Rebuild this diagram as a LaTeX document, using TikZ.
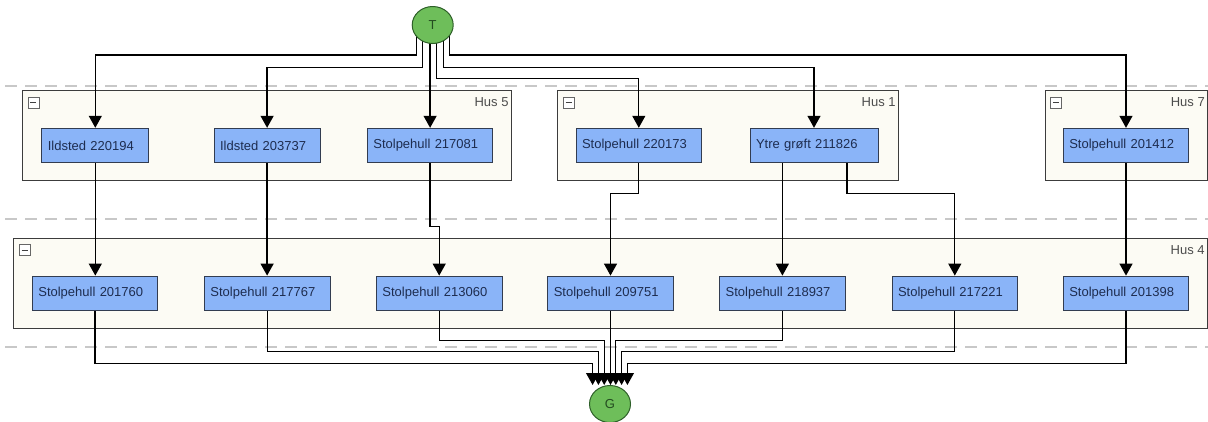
\documentclass[tikz,border=0pt]{standalone}
\usepackage{fontspec}
\setmainfont{Liberation Sans}
\definecolor{postblue}{RGB}{138,180,248}
\definecolor{postline}{RGB}{50,60,80}
\definecolor{posttext}{RGB}{30,45,80}
\definecolor{husfill}{RGB}{252,251,244}
\definecolor{husline}{RGB}{60,60,60}
\definecolor{nodegreen}{RGB}{110,190,90}
\definecolor{greenline}{RGB}{45,95,40}
\definecolor{lanegray}{RGB}{200,200,200}
\usetikzlibrary{arrows.meta,shapes.geometric,backgrounds}
\tikzset{
  post/.style={draw=postline, fill=postblue, line width=0.9pt, minimum height=34.5pt,
    inner xsep=6pt, inner ysep=0pt, text width=#1, align=left, text=posttext,
    font=\fontsize{13}{15}\selectfont},
  post/.default=113.5pt,
  endpt/.style={ellipse, draw=greenline, fill=nodegreen, line width=1pt, minimum width=41pt,
    minimum height=37pt, inner sep=0pt, text=greenline!80!black, font=\fontsize{13}{15}\selectfont},
  hus/.style={draw=husline, fill=husfill, line width=1pt, anchor=north west, inner sep=0pt},
  huslabel/.style={anchor=north east, inner sep=0pt, text=black!70, font=\fontsize{13}{15}\selectfont},
  fold/.style={draw=black!60, fill=white, anchor=north west, minimum size=11pt, inner sep=0pt,
    path picture={\draw[black!75, line width=0.8pt] ([xshift=2.5pt]path picture bounding box.west)
      -- ([xshift=-2.5pt]path picture bounding box.east);}},
  lane/.style={lanegray, line width=1.2pt, dash pattern=on 12pt off 8pt},
  conn/.style={line width=1.25pt, -{Triangle[width=13pt,length=12pt]}},
}

\begin{document}
\begin{tikzpicture}[x=1pt,y=-1pt]
  \useasboundingbox (0,0) rectangle (1208,421);
  %% 1. Lanes and houses
  \begin{scope}[on background layer]
    \draw[lane] (5,86) -- (1208,86);
    \draw[lane] (5,219) -- (1208,219);
    \draw[lane] (5,347) -- (1208,347);
    \node[hus, minimum width=488.5pt, minimum height=89.7pt] (hus5) at (22.2,90) {};
    \node[hus, minimum width=340.5pt, minimum height=89.7pt] (hus1) at (557.3,90) {};
    \node[hus, minimum width=162.3pt, minimum height=89.7pt] (hus7) at (1044.7,90) {};
    \node[hus, minimum width=1193.4pt, minimum height=89.4pt] (hus4) at (13.4,238.3) {};
  \end{scope}
  %% 2. House labels
  \node[huslabel] (l5) at ([xshift=-3pt,yshift=-7.5pt]hus5.north east) {Hus 5};
  \node[huslabel] (l1) at ([xshift=-3pt,yshift=-7.5pt]hus1.north east) {Hus 1};
  \node[huslabel] (l7) at ([xshift=-3pt,yshift=-7.5pt]hus7.north east) {Hus 7};
  \node[huslabel] (l4) at ([xshift=-3pt,yshift=-7.5pt]hus4.north east) {Hus 4};
  \node[fold] (f5) at ([xshift=5.5pt,yshift=-7pt]hus5.north west) {};
  \node[fold] (f1) at ([xshift=5.5pt,yshift=-7pt]hus1.north west) {};
  \node[fold] (f7) at ([xshift=5.5pt,yshift=-7pt]hus7.north west) {};
  \node[fold] (f4) at ([xshift=5.5pt,yshift=-6pt]hus4.north west) {};
  %% 3. Start and end
  \node[endpt] (T) at (432.7,25) {T};
  \node[endpt] (G) at (610,404) {G};
  %% 4. Finds
  \node[post=95pt] (i220194) at (95.3,145.5) {Ildsted 220194};
  \node[post=94pt] (i203737) at (267.1,145.5) {Ildsted 203737};
  \node[post] (s217081) at (430.1,145.5) {Stolpehull 217081};
  \node[post] (s220173) at (638.8,145.5) {Stolpehull 220173};
  \node[post=116pt] (y211826) at (814,145.5) {Ytre grøft 211826};
  \node[post] (s201412) at (1126,145.5) {Stolpehull 201412};

  \node[post] (s201760) at (95.1,293.3) {Stolpehull 201760};
  \node[post] (s217767) at (267.2,293.3) {Stolpehull 217767};
  \node[post] (s213060) at (439.2,293.3) {Stolpehull 213060};
  \node[post] (s209751) at (610.5,293.3) {Stolpehull 209751};
  \node[post] (s218937) at (782.4,293.3) {Stolpehull 218937};
  \node[post] (s217221) at (954.8,293.3) {Stolpehull 217221};
  \node[post] (s201398) at (1126,293.3) {Stolpehull 201398};
  %% 5. Connectors
  \begin{scope}[on background layer]
    \draw[conn] ([xshift=-16.5pt]T.center) -- ++(0,30) -| (i220194.north);
    \draw[conn] ([xshift=-10.3pt]T.center) -- ++(0,42.7) -| (i203737.north);
    \draw[conn] (T.center -| s217081.north) -- (s217081.north);
    \draw[conn] ([xshift=4pt]T.center) -- ++(0,53.3) -| (s220173.north);
    \draw[conn] ([xshift=10.5pt]T.center) -- ++(0,42.7) -| (y211826.north);
    \draw[conn] ([xshift=17pt]T.center) -- ++(0,30) -| (s201412.north);

    \draw[conn] (i220194.south) -- (i220194.south |- s201760.north);
    \draw[conn] (i203737.south) -- (i203737.south |- s217767.north);
    \draw[conn] (s217081.south) -- ++(0,63.5) -| (s213060.north);
    \draw[conn] (s220173.south) -- ++(0,30.5) -| (s209751.north);
    \draw[conn] (y211826.south -| s218937.north) -- (s218937.north);
    \draw[conn] ([xshift=33pt]y211826.south) -- ++(0,30.5) -| (s217221.north);
    \draw[conn] (s201412.south) -- (s201412.south |- s201398.north);

    \draw[conn] (s201760.south) -- ++(0,52.8) -| ([xshift=-17.4pt]G.north);
    \draw[conn] (s217767.south) -- ++(0,40.5) -| ([xshift=-11.6pt]G.north);
    \draw[conn] (s213060.south) -- ++(0,29.5) -| ([xshift=-5.8pt]G.north);
    \draw[conn] (s209751.south) -- (s209751.south |- G.north);
    \draw[conn] (s218937.south) -- ++(0,29.5) -| ([xshift=5.8pt]G.north);
    \draw[conn] (s217221.south) -- ++(0,40.5) -| ([xshift=11.6pt]G.north);
    \draw[conn] (s201398.south) -- ++(0,52.8) -| ([xshift=17.4pt]G.north);
  \end{scope}
\end{tikzpicture}
\end{document}
